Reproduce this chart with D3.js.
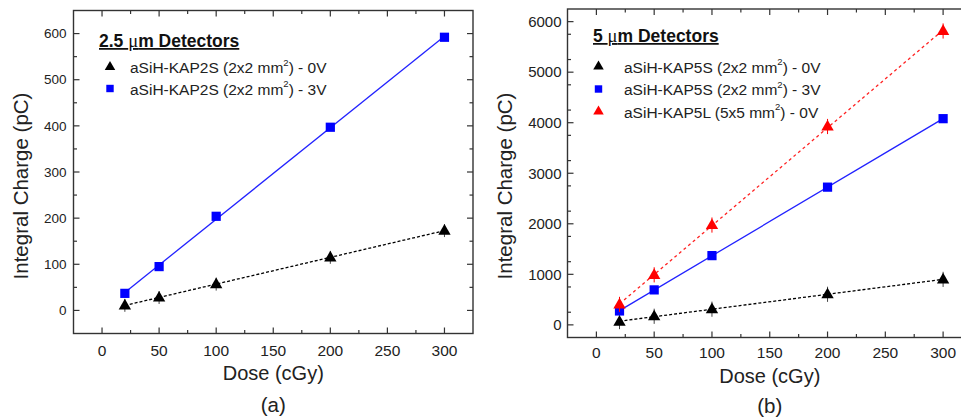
<!DOCTYPE html>
<html><head><meta charset="utf-8">
<script src="https://cdn.jsdelivr.net/npm/d3@7/dist/d3.min.js"></script>
<style>
body{margin:0;background:#fff;}
svg{display:block;font-family:"Liberation Sans",Arial,sans-serif;}
</style></head>
<body>
<svg id="chart" width="961" height="418"></svg>
<script>
// ---------- data ----------
const doses = [20, 50, 100, 200, 300];
// panel (a): 2.5 um detectors
const a_kap2s_0V = [11, 28, 57, 115, 173];
const a_kap2s_3V = [37, 95, 204, 397, 592];
const a_err_0V = [14, 14, 14, 14, 14];
// panel (b): 5 um detectors
const b_kap5s_0V = [65, 170, 310, 605, 900];
const b_kap5s_3V = [275, 692, 1370, 2725, 4080];
const b_kap5l_0V = [405, 990, 1975, 3925, 5815];
const b_err_0V = [150, 150, 150, 150, 150];
const b_err_L = [150, 150, 150, 150, 150];
const xTicks = [0, 50, 100, 150, 200, 250, 300];
const aYTicks = [0, 100, 200, 300, 400, 500, 600];
const bYTicks = [0, 1000, 2000, 3000, 4000, 5000, 6000];

const svg = d3.select("#chart");

function fit(xs, ys){
  const n = xs.length, mx = d3.mean(xs), my = d3.mean(ys);
  let sxy = 0, sxx = 0;
  for (let i=0;i<n;i++){ sxy += (xs[i]-mx)*(ys[i]-my); sxx += (xs[i]-mx)**2; }
  const b = sxy/sxx, a = my - b*mx;
  return x => a + b*x;
}

function panel(cfg){
  const g = svg.append("g");
  const x = d3.scaleLinear().domain([-25, 325]).range([cfg.left, cfg.right]);
  const y = d3.scaleLinear().domain(cfg.yDomain).range([cfg.bottom, cfg.top]);
  const frameColor = "#333";

  const xMinor = d3.range(-25, 326, 25).filter(v => !xTicks.includes(v) && v > -25 && v < 325);
  const yStep = cfg.yTicks[1]-cfg.yTicks[0];
  const yMinor = d3.range(cfg.yDomain[0], cfg.yDomain[1]+1, yStep/2).filter(v => !cfg.yTicks.includes(v) && v > cfg.yDomain[0] && v < cfg.yDomain[1]);

  const tk = g.append("g").attr("stroke", frameColor).attr("stroke-width", 1.2);
  xTicks.forEach(v => {
    tk.append("line").attr("x1", x(v)).attr("x2", x(v)).attr("y1", cfg.bottom).attr("y2", cfg.bottom-6);
    tk.append("line").attr("x1", x(v)).attr("x2", x(v)).attr("y1", cfg.top).attr("y2", cfg.top+6);
  });
  xMinor.forEach(v => {
    tk.append("line").attr("x1", x(v)).attr("x2", x(v)).attr("y1", cfg.bottom).attr("y2", cfg.bottom-3.5);
    tk.append("line").attr("x1", x(v)).attr("x2", x(v)).attr("y1", cfg.top).attr("y2", cfg.top+3.5);
  });
  cfg.yTicks.forEach(v => {
    tk.append("line").attr("y1", y(v)).attr("y2", y(v)).attr("x1", cfg.left).attr("x2", cfg.left+6);
    tk.append("line").attr("y1", y(v)).attr("y2", y(v)).attr("x1", cfg.right).attr("x2", cfg.right-6);
  });
  yMinor.forEach(v => {
    tk.append("line").attr("y1", y(v)).attr("y2", y(v)).attr("x1", cfg.left).attr("x2", cfg.left+3.5);
    tk.append("line").attr("y1", y(v)).attr("y2", y(v)).attr("x1", cfg.right).attr("x2", cfg.right-3.5);
  });

  g.append("rect").attr("x", cfg.left).attr("y", cfg.top)
    .attr("width", cfg.right-cfg.left).attr("height", cfg.bottom-cfg.top)
    .attr("fill", "none").attr("stroke", frameColor).attr("stroke-width", 1.4);

  g.append("g").selectAll("text").data(xTicks).join("text")
    .attr("x", d => x(d)).attr("y", cfg.bottom + cfg.xLabOff)
    .attr("text-anchor", "middle").attr("font-size", 15.5).attr("fill", "#222").text(d => d);
  g.append("g").selectAll("text").data(cfg.yTicks).join("text")
    .attr("x", cfg.left - cfg.yLabGap).attr("y", d => y(d)).attr("dy", "0.35em")
    .attr("text-anchor", "end").attr("font-size", cfg.yFont).attr("fill", "#222").text(d => d);

  const cx = (cfg.left+cfg.right)/2;
  g.append("text").attr("x", cx).attr("y", cfg.xTitleY).attr("text-anchor", "middle")
    .attr("font-size", 20).attr("fill", "#222").text("Dose (cGy)");
  g.append("text").attr("x", cx).attr("y", cfg.capY).attr("text-anchor", "middle")
    .attr("font-size", 20.5).attr("fill", "#222").text(cfg.caption);
  g.append("text").attr("transform", `translate(${cfg.yTitleX},186) rotate(-90)`)
    .attr("text-anchor", "middle").attr("font-size", 20.5).attr("fill", "#222").text("Integral Charge (pC)");

  cfg.series.forEach(s => {
    const f = fit(doses, s.values);
    g.append("line").attr("x1", x(20)).attr("y1", y(f(20))).attr("x2", x(300)).attr("y2", y(f(300)))
      .attr("stroke", s.lineColor).attr("stroke-width", 1.3)
      .attr("stroke-dasharray", s.dash || null);
    if (s.err){
      g.append("g").selectAll("line").data(doses).join("line")
        .attr("x1", d => x(d)).attr("x2", d => x(d))
        .attr("y1", (d,i) => y(s.values[i]-s.err[i])).attr("y2", (d,i) => y(s.values[i]+s.err[i]))
        .attr("stroke", s.color === "#000" ? "#444" : s.color).attr("stroke-width", 1);
    }
    const sym = s.shape === "square" ? d3.symbolSquare : d3.symbolTriangle;
    const size = s.shape === "square" ? 85 : 66;
    g.append("g").selectAll("path").data(doses).join("path")
      .attr("transform", (d,i) => `translate(${x(d)},${y(s.values[i]) + (s.shape==="square"?0:0.5)})`)
      .attr("d", d3.symbol().type(sym).size(size)).attr("fill", s.color);
  });

  const lg = g.append("g");
  lg.append("text").attr("x", cfg.legX).attr("y", cfg.legY).attr("font-size", 17.5).attr("font-weight", "bold")
    .attr("text-decoration", "underline").attr("fill", "#111")
    .call(t => { t.append("tspan").text(cfg.legTitle[0]); t.append("tspan").text("\u03bc").attr("font-weight","normal").attr("font-family","Liberation Serif, serif").attr("font-size",18.5); t.append("tspan").text(cfg.legTitle[1]); });
  cfg.series.forEach((s, i) => {
    const yy = cfg.legY + cfg.legFirst + i*cfg.legStep;
    const sym = s.shape === "square" ? d3.symbolSquare : d3.symbolTriangle;
    lg.append("path").attr("transform", `translate(${cfg.legSymX},${yy-6})`)
      .attr("d", d3.symbol().type(sym).size(s.shape === "square" ? 55 : 48)).attr("fill", s.color);
    const t = lg.append("text").attr("x", cfg.legTextX).attr("y", yy).attr("font-size", 15.5).attr("fill", "#222");
    t.append("tspan").text(s.label[0]);
    t.append("tspan").text("2").attr("font-size", 9.5).attr("dy", -7.5);
    t.append("tspan").text(s.label[1]).attr("dy", 7.5);
  });
}

panel({
  left: 73.5, right: 473, top: 10.5, bottom: 333.5,
  yDomain: [-50, 650], yTicks: aYTicks, yFont: 13.5, yLabGap: 7, xLabOff: 22,
  xTitleY: 380, capY: 412, caption: "(a)", yTitleX: 28,
  legX: 99, legY: 47, legFirst: 26, legStep: 21.5, legTitle: ["2.5 ", "m Detectors"], legSymX: 110, legTextX: 130,
  series: [
    {values: a_kap2s_0V, err: a_err_0V, color: "#000", lineColor: "#000", dash: "3,2", shape: "triangle", label: ["aSiH-KAP2S (2x2 mm", ") - 0V"]},
    {values: a_kap2s_3V, color: "#0000ff", lineColor: "#2222ff", shape: "square", label: ["aSiH-KAP2S (2x2 mm", ") - 3V"]}
  ]
});

panel({
  left: 567.5, right: 972, top: 9, bottom: 337.5,
  yDomain: [-250, 6250], yTicks: bYTicks, yFont: 15, yLabGap: 6, xLabOff: 20.5,
  xTitleY: 383, capY: 413, caption: "(b)", yTitleX: 512,
  legX: 593, legY: 42, legFirst: 30.5, legStep: 22.5, legTitle: ["5 ", "m Detectors"], legSymX: 598.5, legTextX: 624,
  series: [
    {values: b_kap5s_0V, err: b_err_0V, color: "#000", lineColor: "#000", dash: "3,2", shape: "triangle", label: ["aSiH-KAP5S (2x2 mm", ") - 0V"]},
    {values: b_kap5s_3V, color: "#0000ff", lineColor: "#2222ff", shape: "square", label: ["aSiH-KAP5S (2x2 mm", ") - 3V"]},
    {values: b_kap5l_0V, err: b_err_L, color: "#ff0000", lineColor: "#ff2222", dash: "3,3", shape: "triangle", label: ["aSiH-KAP5L (5x5 mm", ") - 0V"]}
  ]
});
</script>
</body></html>
